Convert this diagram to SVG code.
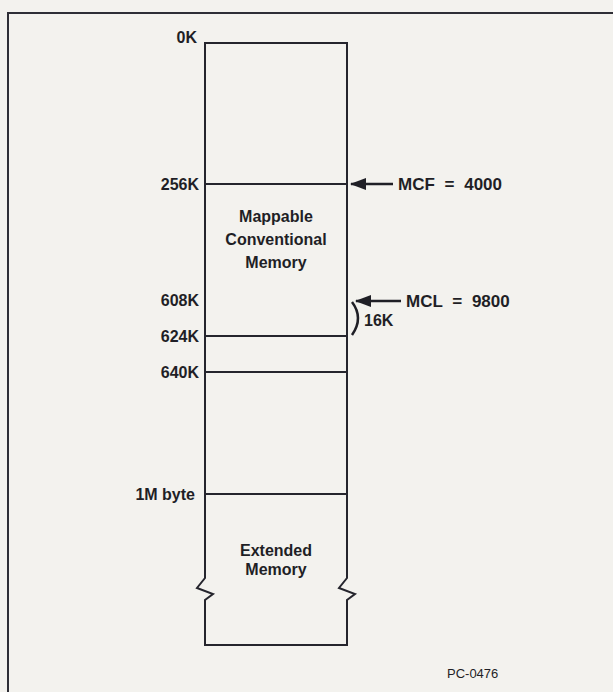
<svg xmlns="http://www.w3.org/2000/svg" width="613" height="692" viewBox="0 0 613 692">
<style>
.bg{fill:#f3f2ee}
.frame{stroke:#2e2e36;stroke-width:2;fill:none}
.box{stroke:#25252d;stroke-width:2;fill:none}
.lbl{font-family:"Liberation Sans",Arial,sans-serif;font-weight:bold;font-size:16px;fill:#1f1f26}
.mid{text-anchor:middle}
.end{text-anchor:end}
.big{font-family:"Liberation Sans",Arial,sans-serif;font-weight:bold;font-size:17px;fill:#1f1f26;word-spacing:5px}
.small{font-family:"Liberation Sans",Arial,sans-serif;font-size:13px;fill:#1f1f26}
.arr{stroke:#1f1f26;stroke-width:2.5;fill:none}
</style>
<defs>
<marker id="ah" markerWidth="16" markerHeight="12" refX="15" refY="6" orient="auto" markerUnits="userSpaceOnUse">
<path d="M0,0 L16,6 L0,12 Z" fill="#1f1f26"/>
</marker>
</defs>
<rect class="bg" x="0" y="0" width="613" height="692"/>
<path class="frame" d="M8,692 L8,13 L613,13"/>

<g id="memory-column">
<path class="box" d="M205,43 L347,43 L347,578 L339,588 L355,594 L347,600 L347,645 L205,645 L205,600 L213,594 L197,588 L205,578 Z"/>
<line class="box" x1="205" y1="184" x2="347" y2="184"/>
<line class="box" x1="205" y1="336" x2="347" y2="336"/>
<line class="box" x1="205" y1="372" x2="347" y2="372"/>
<line class="box" x1="205" y1="494" x2="347" y2="494"/>
</g>

<g id="mappable-conventional">
<text class="lbl mid" x="276" y="222">Mappable</text>
<text class="lbl mid" x="276" y="245">Conventional</text>
<text class="lbl mid" x="276" y="268">Memory</text>
</g>

<g id="extended-memory">
<text class="lbl mid" x="276" y="556">Extended</text>
<text class="lbl mid" x="276" y="575">Memory</text>
</g>

<g id="address-labels">
<text class="lbl end" x="197" y="43">0K</text>
<text class="lbl end" x="199" y="190">256K</text>
<text class="lbl end" x="199" y="306">608K</text>
<text class="lbl end" x="199" y="342">624K</text>
<text class="lbl end" x="199" y="378">640K</text>
<text class="lbl end" x="195" y="500">1M byte</text>
</g>

<g id="connectors">
<line class="arr" x1="393" y1="184" x2="351" y2="184" marker-end="url(#ah)"/>
<line class="arr" x1="401" y1="301" x2="356" y2="301" marker-end="url(#ah)"/>
<path class="arr" stroke-width="2" d="M352,302 Q364,318 352,335"/>
</g>

<g id="mcf">
<text class="big" x="398" y="190">MCF = 4000</text>
</g>
<g id="mcl">
<text class="big" x="406" y="307">MCL = 9800</text>
</g>
<g id="size-16k">
<text class="lbl" x="364" y="326">16K</text>
</g>
<text class="small" x="447" y="678">PC-0476</text>
</svg>
